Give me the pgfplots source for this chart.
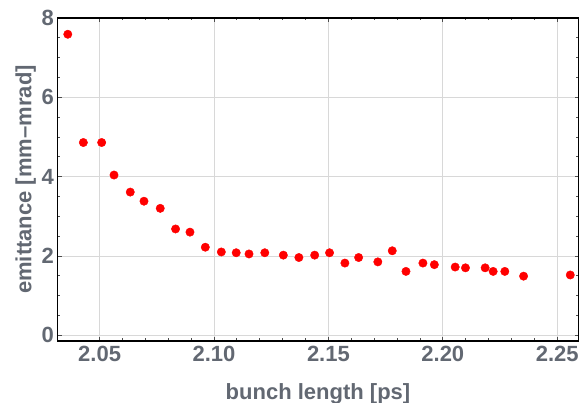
\documentclass[border=0pt]{standalone}
\usepackage{fontspec}
\setmainfont{Liberation Sans}
\usepackage{pgfplots}
\pgfplotsset{compat=1.18}
\definecolor{lblgray}{RGB}{98,104,114}
\definecolor{gridgray}{RGB}{216,216,216}
\begin{document}
\begin{tikzpicture}
\begin{axis}[
    scale only axis,
    width=521pt, height=323pt,
    xmin=2.0316, xmax=2.2593,
    ymin=-0.145, ymax=8.0,
    xtick={2.05,2.10,2.15,2.20,2.25},
    ytick={0,2,4,6,8},
    minor x tick num=4,
    minor y tick num=3,
    xmajorgrids, ymajorgrids,
    major grid style={gridgray, line width=0.8pt},
    axis line style={black, line width=1.6pt},
    tick style={black!70, line width=0.8pt},
    major tick length=4pt, minor tick length=2.5pt,
    tick align=inside,
    x tick label style={yshift=-2pt},
    xticklabel style={/pgf/number format/.cd, fixed, fixed zerofill, precision=2},
    /pgf/number format/assume math mode=true,
    tick label style={font=\fontsize{22}{24}\selectfont\bfseries, text=lblgray},
    label style={font=\fontsize{22}{24}\selectfont\bfseries, text=lblgray},
    xlabel={bunch length [ps]},
    ylabel={emittance [mm\textendash mrad]},
    xlabel style={at={(axis description cs:0.5,-0.182)}, anchor=base},
    ylabel style={at={(axis description cs:-0.05,0.5)}, anchor=base},
]
\addplot[only marks, mark=*, mark size=4.2pt, color=red, mark options={draw=red, fill=red}] coordinates {
(2.0361,7.59) (2.0429,4.86) (2.0509,4.86) (2.0563,4.04) (2.0634,3.61)
(2.0694,3.38) (2.0765,3.20) (2.0832,2.68) (2.0895,2.60) (2.0962,2.22)
(2.1032,2.10) (2.1097,2.08) (2.1153,2.05) (2.1222,2.08) (2.1303,2.02)
(2.1371,1.96) (2.1440,2.02) (2.1505,2.08) (2.1572,1.82) (2.1632,1.96)
(2.1716,1.85) (2.1779,2.13) (2.1839,1.61) (2.1913,1.82) (2.1963,1.78)
(2.2054,1.72) (2.2099,1.70) (2.2185,1.70) (2.2220,1.61) (2.2271,1.61)
(2.2353,1.49) (2.2557,1.52)
};
\end{axis}
\pgfresetboundingbox
\path[use as bounding box] (-57.5pt,-62pt) rectangle (523.5pt,341pt);
\end{tikzpicture}
\end{document}
